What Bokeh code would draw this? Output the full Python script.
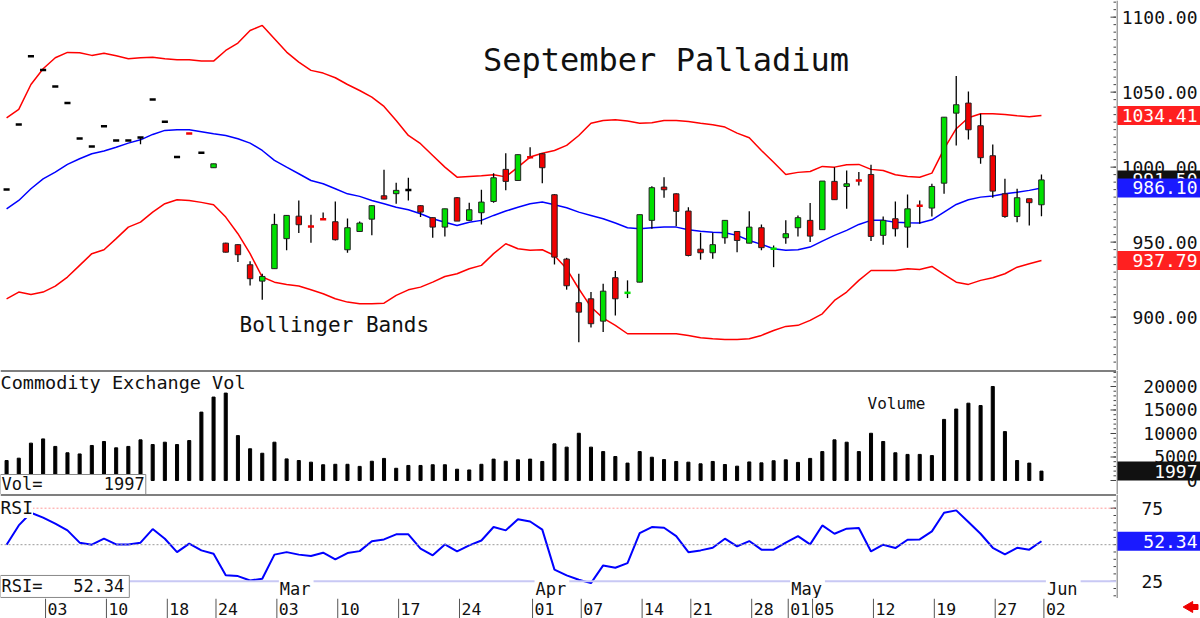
from bokeh.plotting import figure
from bokeh.layouts import column, row
from bokeh.models import Range1d, Label, Span
from bokeh.core.properties import value
from bokeh.embed import file_html
from bokeh.resources import INLINE

# ---------------- data ----------------
dates = [
    "2025-01-29", "2025-01-30", "2025-01-31",
    "2025-02-03", "2025-02-04", "2025-02-05", "2025-02-06", "2025-02-07",
    "2025-02-10", "2025-02-11", "2025-02-12", "2025-02-13", "2025-02-14",
    "2025-02-18", "2025-02-19", "2025-02-20", "2025-02-21",
    "2025-02-24", "2025-02-25", "2025-02-26", "2025-02-27", "2025-02-28",
    "2025-03-03", "2025-03-04", "2025-03-05", "2025-03-06", "2025-03-07",
    "2025-03-10", "2025-03-11", "2025-03-12", "2025-03-13", "2025-03-14",
    "2025-03-17", "2025-03-18", "2025-03-19", "2025-03-20", "2025-03-21",
    "2025-03-24", "2025-03-25", "2025-03-26", "2025-03-27", "2025-03-28",
    "2025-03-31",
    "2025-04-01", "2025-04-02", "2025-04-03", "2025-04-04",
    "2025-04-07", "2025-04-08", "2025-04-09", "2025-04-10", "2025-04-11",
    "2025-04-14", "2025-04-15", "2025-04-16", "2025-04-17",
    "2025-04-21", "2025-04-22", "2025-04-23", "2025-04-24", "2025-04-25",
    "2025-04-28", "2025-04-29", "2025-04-30",
    "2025-05-01", "2025-05-02",
    "2025-05-05", "2025-05-06", "2025-05-07", "2025-05-08", "2025-05-09",
    "2025-05-12", "2025-05-13", "2025-05-14", "2025-05-15", "2025-05-16",
    "2025-05-19", "2025-05-20", "2025-05-21", "2025-05-22", "2025-05-23",
    "2025-05-27", "2025-05-28", "2025-05-29", "2025-05-30",
    "2025-06-02",
]

opens = [985.1, 1028.5, 1074.0, 1064.7, 1053.8, 1042.7, 1019.1, 1013.8, 1027.3, 1017.8,
         1017.8, 1019.8, 1045.1, 1030.2, 1006.7, 1022.8, 1009.6, 999.6, 949.3, 948.3,
         934.9, 924.0, 932.3, 952.3, 967.3, 960.6, 965.4, 963.6, 944.9, 957.1,
         965.3, 980.9, 982.3, 984.7, 974.3, 966.3, 960.0, 979.6, 964.5, 969.6,
         977.1, 998.5, 991.1, 1007.0, 1008.9, 981.6, 938.7, 909.6, 912.2, 897.3,
         926.3, 915.9, 923.3, 964.5, 986.7, 982.2, 970.7, 945.3, 942.9, 952.9,
         957.1, 949.3, 959.6, 945.4, 952.9, 959.6, 964.5, 958.3, 990.5, 987.1,
         991.4, 995.1, 954.5, 965.6, 960.0, 974.6, 972.7, 989.3, 1036.0, 1042.7,
         1027.6, 1007.6, 982.2, 967.1, 978.9, 974.9]
highs = [985.1, 1028.5, 1074.0, 1064.7, 1053.8, 1042.7, 1019.1, 1013.8, 1027.3, 1017.8,
         1017.8, 1019.8, 1045.1, 1030.2, 1006.7, 1022.8, 1009.6, 1002.2, 949.5, 948.5,
         937.3, 928.9, 968.9, 968.0, 977.8, 968.3, 969.8, 977.1, 965.8, 963.8,
         974.5, 998.3, 989.6, 992.9, 974.5, 966.5, 972.2, 980.0, 976.3, 984.9,
         996.0, 1009.3, 1008.5, 1013.3, 1009.5, 982.0, 939.5, 928.9, 916.7, 922.2,
         930.7, 924.5, 968.3, 987.3, 993.3, 982.5, 973.3, 956.3, 956.3, 964.5,
         957.3, 970.5, 961.8, 947.8, 964.5, 967.8, 976.0, 990.7, 1000.0, 997.8,
         996.7, 1001.6, 967.1, 977.1, 981.8, 977.8, 988.9, 1033.3, 1060.7, 1050.5,
         1035.6, 1015.1, 992.2, 985.6, 978.9, 995.1]
lows = [985.1, 1028.5, 1074.0, 1064.7, 1053.8, 1042.7, 1019.1, 1013.8, 1027.3, 1017.8,
        1017.8, 1015.3, 1045.1, 1030.2, 1006.7, 1022.2, 1009.6, 999.6, 943.0, 936.7,
        921.1, 911.6, 932.3, 944.5, 956.0, 949.6, 965.0, 951.0, 942.9, 956.8,
        954.5, 978.5, 975.6, 977.8, 966.7, 952.9, 953.8, 964.0, 964.0, 961.8,
        976.3, 984.5, 991.0, 1006.0, 989.3, 935.1, 918.3, 883.3, 893.1, 890.0,
        901.1, 912.7, 923.3, 958.9, 979.6, 960.5, 940.5, 938.3, 938.9, 948.9,
        943.3, 949.3, 944.5, 933.3, 948.9, 953.8, 950.0, 958.3, 978.3, 972.2,
        987.8, 950.7, 948.3, 953.8, 946.3, 962.2, 967.1, 982.2, 1014.5, 1018.5,
        1002.3, 979.6, 966.3, 963.3, 961.1, 967.3]
closes = [985.1, 1028.5, 1074.0, 1064.7, 1053.8, 1042.7, 1019.1, 1013.8, 1027.3, 1017.8,
          1017.8, 1019.8, 1045.1, 1030.2, 1006.7, 1022.2, 1009.6, 1002.2, 943.3, 941.6,
          925.6, 927.1, 961.8, 967.8, 961.6, 960.1, 965.0, 951.6, 959.6, 962.7,
          974.3, 978.7, 984.5, 984.7, 970.0, 960.0, 972.2, 964.0, 971.6, 976.7,
          992.9, 990.5, 1008.3, 1006.3, 999.6, 940.0, 920.9, 903.3, 895.6, 917.3,
          912.2, 916.5, 968.3, 986.3, 984.9, 970.5, 941.1, 942.9, 948.3, 964.5,
          951.1, 960.0, 946.3, 945.8, 955.6, 966.3, 954.0, 990.7, 978.3, 988.9,
          990.9, 953.8, 964.5, 958.9, 972.2, 974.0, 987.1, 1033.3, 1041.6, 1024.9,
          1006.3, 984.0, 967.1, 979.6, 976.3, 991.5]

bb_upper = [1032.9, 1038.5, 1055.1, 1065.6, 1072.9, 1076.5, 1076.3, 1074.5, 1076.0, 1074.3,
            1072.3, 1072.9, 1073.3, 1072.3, 1071.6, 1071.6, 1070.7, 1070.7, 1077.8, 1082.7,
            1091.1, 1094.5, 1085.6, 1076.7, 1070.0, 1064.5, 1062.7, 1059.6, 1055.1, 1051.1,
            1046.7, 1040.5, 1031.1, 1021.1, 1015.6, 1007.8, 1000.0, 993.3, 993.8, 994.2,
            994.9, 993.5, 1000.0, 1006.7, 1009.3, 1011.1, 1014.5, 1021.1, 1029.3, 1031.1,
            1031.6, 1030.7, 1029.3, 1029.6, 1031.1, 1031.1, 1030.5, 1029.3, 1028.2, 1026.7,
            1022.7, 1019.6, 1011.1, 1003.3, 995.1, 996.5, 997.1, 1000.5, 1000.0, 1001.6,
            1001.8, 998.5, 997.8, 994.9, 993.8, 993.3, 996.0, 1012.2, 1025.6, 1032.9,
            1035.6, 1035.6, 1035.1, 1034.2, 1033.6, 1034.41]
bb_mid = [972.2, 977.8, 985.6, 992.2, 996.7, 1001.8, 1005.6, 1008.9, 1010.7, 1013.3,
          1016.0, 1018.2, 1021.8, 1024.5, 1024.9, 1024.9, 1023.6, 1022.2, 1021.1, 1018.9,
          1016.0, 1011.1, 1004.5, 1000.0, 995.6, 991.1, 988.9, 985.6, 982.2, 980.5,
          977.8, 975.6, 973.3, 971.6, 968.9, 965.6, 963.3, 961.1, 963.3, 964.5,
          967.8, 970.7, 973.3, 975.6, 976.7, 974.9, 972.9, 970.0, 967.8, 965.6,
          962.7, 959.6, 958.9, 959.6, 960.0, 960.0, 958.2, 957.3, 956.5, 956.3,
          954.5, 951.1, 948.5, 945.6, 944.5, 944.9, 946.7, 950.7, 954.5, 957.8,
          961.8, 964.5, 964.5, 963.3, 962.9, 962.7, 964.9, 970.0, 975.1, 978.2,
          980.0, 980.7, 982.2, 983.3, 984.5, 986.10]
bb_lower = [912.2, 916.7, 915.1, 916.7, 920.7, 926.7, 934.5, 942.3, 944.9, 952.3,
            960.0, 963.3, 970.0, 975.6, 978.2, 977.8, 976.5, 974.9, 966.7, 955.6,
            942.3, 926.7, 923.3, 921.8, 920.7, 918.2, 915.6, 912.2, 910.0, 908.9,
            908.9, 909.3, 914.5, 918.2, 920.0, 923.3, 927.1, 928.9, 932.2, 934.5,
            942.3, 948.9, 945.6, 944.5, 944.9, 941.1, 932.2, 918.9, 906.7, 899.3,
            894.5, 888.9, 888.9, 888.9, 888.9, 888.9, 887.8, 886.2, 885.6, 885.1,
            885.1, 885.6, 887.8, 891.1, 893.8, 894.5, 897.8, 902.2, 911.1, 916.7,
            924.5, 931.1, 931.1, 931.1, 932.2, 931.8, 933.8, 928.5, 923.3, 921.8,
            924.5, 926.2, 928.9, 933.3, 935.6, 937.79]

volume = [4250, 4750, 7950, 8850, 7250, 5900, 5650, 7450, 8300, 6950,
          7250, 8650, 7650, 8150, 7650, 8500, 14550, 17750, 18600, 9550,
          6750, 5800, 8150, 4600, 4250, 3900, 3350, 3450, 3450, 3000,
          4100, 4700, 2600, 3200, 3200, 3350, 3350, 2400, 2250, 3450,
          4550, 4100, 4400, 4550, 4050, 7800, 7100, 10050, 7100, 6150,
          5100, 3700, 6150, 4950, 4450, 4050, 3900, 3550, 4050, 3400,
          3050, 3950, 3750, 4200, 4400, 3850, 4700, 6150, 8650, 8150,
          6150, 10050, 8300, 5900, 5550, 5550, 5300, 13000, 15200, 16450,
          15950, 20000, 10400, 4250, 3700, 1997]

rsi = [50.0, 63.2, 71.9, 68.5, 64.4, 59.8, 51.4, 50.0, 54.1, 50.2,
       50.2, 51.4, 60.7, 54.1, 44.9, 50.7, 46.1, 43.8, 29.0, 28.5,
       25.5, 26.7, 43.2, 44.9, 43.2, 42.2, 44.5, 39.9, 44.3, 45.6,
       52.3, 53.6, 57.1, 57.1, 47.3, 42.7, 50.2, 45.4, 49.5, 52.9,
       62.1, 59.8, 67.5, 65.9, 60.3, 32.9, 29.0, 26.0, 23.7, 35.8,
       34.2, 37.4, 57.9, 62.1, 61.6, 55.9, 44.9, 46.1, 47.9, 54.1,
       48.8, 52.5, 46.6, 46.6, 51.4, 55.9, 50.2, 63.2, 57.5, 61.0,
       61.4, 45.4, 50.0, 47.7, 53.4, 53.6, 59.1, 71.9, 73.5, 65.5,
       57.5, 47.9, 43.4, 47.9, 46.6, 52.34]

price_ticks = [900, 950, 1000, 1050, 1100]
price_tick_labels = ["900.00", "950.00", "1000.00", "1050.00", "1100.00"]
vol_ticks = [0, 5000, 10000, 15000, 20000]
vol_tick_labels = ["0", "5000", "10000", "15000", "20000"]
rsi_ticks = [25, 75]
rsi_tick_labels = ["25", "75"]
date_tick_dates = ["2025-02-03", "2025-02-10", "2025-02-18", "2025-02-24", "2025-03-03",
                   "2025-03-10", "2025-03-17", "2025-03-24", "2025-04-01", "2025-04-07",
                   "2025-04-14", "2025-04-21", "2025-04-28", "2025-05-01", "2025-05-05",
                   "2025-05-12", "2025-05-19", "2025-05-27", "2025-06-02"]
date_tick_labels = ["03", "10", "18", "24", "03", "10", "17", "24", "01", "07",
                    "14", "21", "28", "01", "05", "12", "19", "27", "02"]
month_dates = ["2025-03-03", "2025-04-01", "2025-05-01", "2025-06-02"]
month_labels = ["Mar", "Apr", "May", "Jun"]

last_close = 991.50
last_upper = 1034.41
last_mid = 986.10
last_lower = 937.79
last_volume = 1997
last_rsi = 52.34

# ---------------- layout constants ----------------
FONT = "DejaVu Sans Mono"
FW = 1116           # plot frame width
RB = 84             # right scale strip width
PXU = 12.175        # pixels per bar
X0 = -0.5
X1 = X0 + FW / PXU
H_PRICE, H_VOL, H_RSI, H_DATE = 370, 124, 104, 20

GREEN = "#00e000"
RED = "#f00000"
AXIS = "#444444"


def px_x(px):
    return X0 + px / PXU


xr = Range1d(X0, X1)
idx = list(range(len(dates)))
pos = {d: i for i, d in enumerate(dates)}


def plain_fig(fw, h, x_range, y_range):
    p = figure(frame_width=fw, frame_height=h, x_range=x_range, y_range=y_range,
               output_backend="svg", toolbar_location=None,
               x_axis_location=None, y_axis_location=None,
               min_border_left=0, min_border_right=0, min_border_top=0, min_border_bottom=0,
               outline_line_color=None, background_fill_color="white",
               border_fill_color="white")
    p.grid.visible = False
    return p


def scale_strip(h, yr, ticks, labels, align="right"):
    """Right-hand value scale sharing the panel's y range."""
    s = plain_fig(RB, h, Range1d(0, RB), yr)
    s.segment(x0=[0.5], y0=[yr.start], x1=[0.5], y1=[yr.end], color=AXIS, line_width=1)
    lx = 81 if align == "right" else 25
    s.text(x=[lx] * len(ticks), y=ticks, text=labels, text_font=value(FONT),
           text_font_size="18px", text_color="#111111", text_align=align,
           text_baseline="middle")
    return s


def inner_ticks(p, major, minor):
    p.segment(x0=[px_x(FW - 6)] * len(major), y0=major, x1=[X1] * len(major), y1=major,
              color=AXIS, line_width=1)
    p.segment(x0=[px_x(FW - 3)] * len(minor), y0=minor, x1=[X1] * len(minor), y1=minor,
              color=AXIS, line_width=1)


def value_box(s, y, text, bg):
    s.rect(x=[42.5], y=[y], width=83, height=19, height_units="screen",
           fill_color=bg, line_color=None)
    s.text(x=[81], y=[y], text=[text], text_font=value(FONT), text_font_size="18px",
           text_color="white", text_align="right", text_baseline="middle")


# ---------------- price panel ----------------
pr = Range1d(864.4, 1111.1)
p1 = plain_fig(FW, H_PRICE, xr, pr)
inner_ticks(p1, price_ticks, list(range(870, 1111, 5)))

p1.line(idx, bb_upper, color="#ff0000", line_width=1.5)
p1.line(idx, bb_lower, color="#ff0000", line_width=1.5)
p1.line(idx, bb_mid, color="#0000ff", line_width=1.5)

p1.segment(x0=idx, y0=lows, x1=idx, y1=highs, color="black", line_width=1.3)

bx, bb, bt, bc = [], [], [], []
dx, dy, dc = [], [], []
for i, (o, c) in enumerate(zip(opens, closes)):
    if abs(c - o) >= 1.0:
        bx.append(i); bb.append(min(o, c)); bt.append(max(o, c))
        bc.append(GREEN if c > o else RED)
    else:
        dx.append(i); dy.append((o + c) / 2)
        dc.append(GREEN if c > o else (RED if c < o else "black"))
p1.vbar(x=bx, bottom=bb, top=bt, width=0.45, fill_color=bc, line_color="#222222", line_width=1)
p1.rect(x=dx, y=dy, width=0.5, height=2.5, height_units="screen", fill_color=dc, line_color=None)

p1.add_layout(Label(x=px_x(665.5), y=1071.1, text="September Palladium", text_font=FONT,
                    text_font_size="32px", text_color="#111111", text_align="center",
                    text_baseline="middle"))
p1.add_layout(Label(x=px_x(239), y=894.5, text="Bollinger Bands", text_font=FONT,
                    text_font_size="21px", text_color="#111111", text_align="left",
                    text_baseline="middle"))

s1 = scale_strip(H_PRICE, pr, price_ticks, price_tick_labels)
value_box(s1, last_upper, "%.2f" % last_upper, "#ff2020")
value_box(s1, last_close, "%.2f" % last_close, "#111111")
value_box(s1, last_mid, "%.2f" % last_mid, "#1a1aff")
value_box(s1, last_lower, "%.2f" % last_lower, "#ff2020")

# ---------------- volume panel ----------------
vr = Range1d(-2979, 23404)
p2 = plain_fig(FW, H_VOL, xr, vr)
inner_ticks(p2, vol_ticks, list(range(0, 23001, 1000)))
p2.vbar(x=idx, top=volume, bottom=0, width=0.25, color="black")
p2.add_layout(Span(location=vr.end, dimension="width", line_color="black", line_width=2))
p2.add_layout(Label(x=X0, y=20850, text="Commodity Exchange Vol", text_font=FONT,
                    text_font_size="18.5px", text_color="#111111", text_align="left",
                    text_baseline="middle"))
p2.add_layout(Label(x=px_x(896), y=16380, text="Volume", text_font=FONT,
                    text_font_size="16px", text_color="#111111", text_align="center",
                    text_baseline="middle"))
p2.add_layout(Label(x=X0, y=-850, text="Vol=" + "\u00a0" * 6 + str(last_volume), text_font=FONT,
                    text_font_size="17px", text_color="#111111", text_align="left",
                    text_baseline="middle", background_fill_color="white",
                    border_line_color="#888888", padding=dict(left=1, right=1, top=0, bottom=0)))
s2 = scale_strip(H_VOL, vr, vol_ticks, vol_tick_labels)
value_box(s2, last_volume, str(last_volume), "#111111")

# ---------------- RSI panel ----------------
rr = Range1d(13.15, 84.38)
p3 = plain_fig(FW, H_RSI, xr, rr)
inner_ticks(p3, rsi_ticks, list(range(15, 85, 5)))
p3.add_layout(Span(location=rr.end, dimension="width", line_color="black", line_width=2))
p3.add_layout(Span(location=75, dimension="width", line_color="#ff9999", line_width=1, line_dash="2 2"))
p3.add_layout(Span(location=50, dimension="width", line_color="#999999", line_width=1, line_dash="2 2"))
p3.add_layout(Span(location=25, dimension="width", line_color="#c8c8f4", line_width=2))
p3.add_layout(Span(location=rr.start, dimension="width", line_color=AXIS, line_width=1))
p3.line(idx, rsi, color="#0000ff", line_width=2)
p3.add_layout(Label(x=X0, y=75.5, text="RSI", text_font=FONT, text_font_size="18px",
                    text_color="#111111", text_align="left", text_baseline="middle",
                    background_fill_color="white"))
for d, m in zip(month_dates, month_labels):
    p3.add_layout(Label(x=pos[d] + 0.2, y=19.5, text=m, text_font=FONT, text_font_size="17px",
                        text_color="#111111", text_align="left", text_baseline="middle",
                        background_fill_color="white", x_offset=2,
                        padding=dict(left=1, right=3, top=0, bottom=0)))
p3.add_layout(Label(x=X0, y=21.4, text="RSI=" + "\u00a0" * 3 + "%.2f" % last_rsi, text_font=FONT,
                    text_font_size="17px", text_color="#111111", text_align="left",
                    text_baseline="middle", background_fill_color="white",
                    border_line_color="#888888", padding=dict(left=1, right=5, top=1, bottom=1)))
s3 = scale_strip(H_RSI, rr, rsi_ticks, rsi_tick_labels, align="left")
value_box(s3, last_rsi, "%.2f" % last_rsi, "#1a1aff")

# ---------------- date strip ----------------
p4 = plain_fig(1200, H_DATE, Range1d(X0, px_x(1200)), Range1d(0, H_DATE))
tx = [pos[d] + 0.2 for d in date_tick_dates]
p4.segment(x0=tx, y0=[0] * len(tx), x1=tx, y1=[H_DATE] * len(tx), color="#555555", line_width=1)
p4.text(x=tx, y=[10] * len(tx), text=date_tick_labels, text_font=value(FONT),
        text_font_size="16.5px", text_color="#111111", text_align="left",
        text_baseline="middle", x_offset=2)
# small red arrow at bottom right
p4.scatter(x=[px_x(1189)], y=[11.5], marker="triangle", size=11, angle=1.5708,
           color="#ee0000")
p4.rect(x=[px_x(1194)], y=[11.5], width=7, height=5, width_units="screen",
        height_units="screen", color="#ee0000")

layout = column(row(p1, s1, spacing=0), row(p2, s2, spacing=0), row(p3, s3, spacing=0), p4,
                spacing=0)
open("out.html", "w").write(file_html(layout, INLINE))
